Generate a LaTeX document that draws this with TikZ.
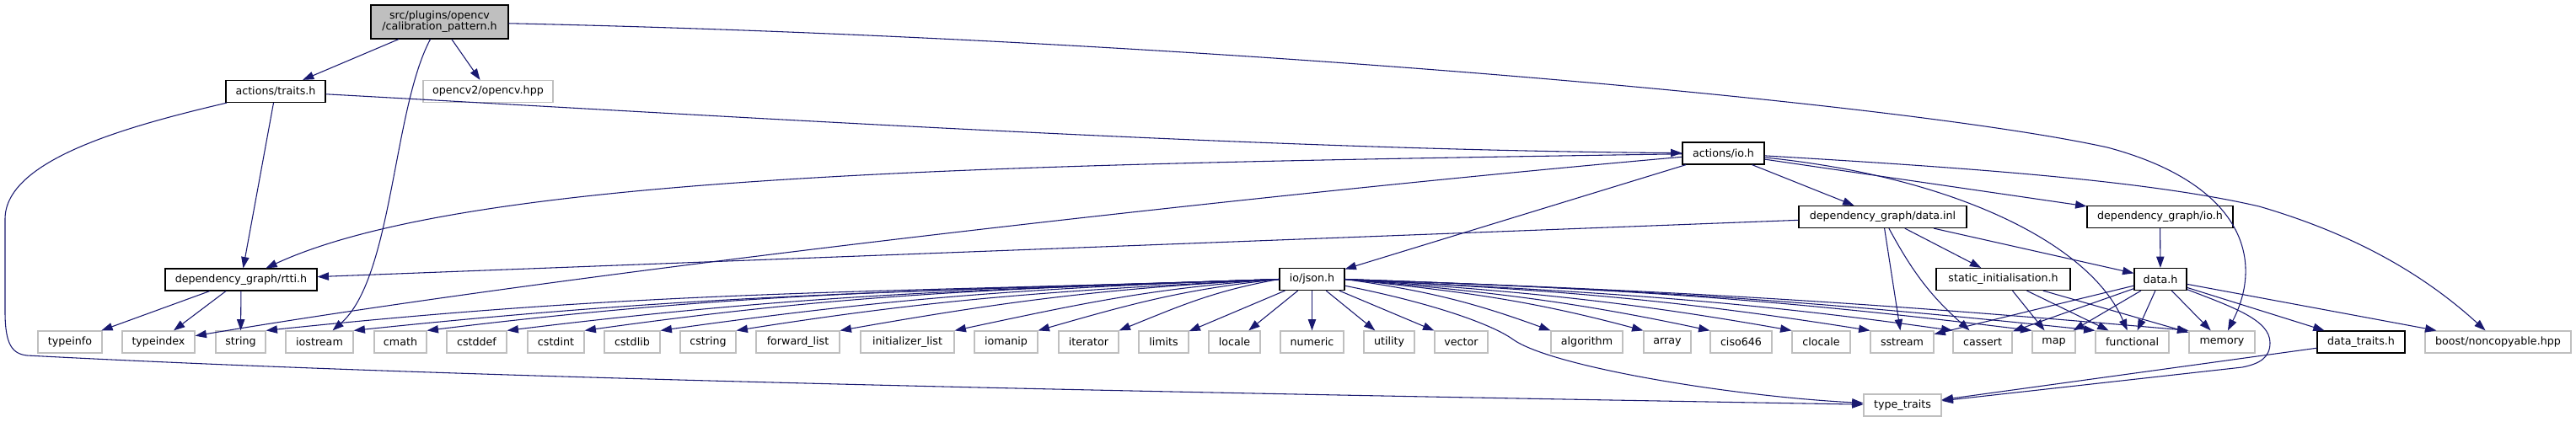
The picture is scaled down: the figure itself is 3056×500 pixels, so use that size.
\documentclass[tikz,border=0pt]{standalone}
\usepackage{fontspec}
\setmainfont{DejaVu Sans}
\usetikzlibrary{arrows.meta}
\definecolor{eDep}{RGB}{25, 25, 112}
\definecolor{bExt}{RGB}{191, 191, 191}
\definecolor{cMain}{RGB}{191, 191, 191}

\begin{document}
\begin{tikzpicture}[
    x=0.75pt, y=0.75pt,
    font=\fontsize{9.5}{10}\selectfont,
    hdr/.style={
        draw=black,
        fill=white,
        line width=0.9pt,
        minimum height=19.5pt,
        inner sep=2pt,
        align=center
    },
    ext/.style={hdr, draw=bExt},
    boxw/.style={minimum width=#1*0.75pt},
    dep/.style={-{Triangle[length=10pt, width=7pt]}, line width=0.8pt, draw=eDep, fill=none}
]

\fill[white] (0,0) rectangle (3056,-500);

% Top levels
\node[hdr, fill=cMain, boxw=163, minimum height=30pt] (calib) at (521.5,-26) {src/plugins/opencv\\/calibration\_pattern.h};
\node[hdr, boxw=118] (traits) at (327,-108.5) {actions/traits.h};
\node[ext, boxw=154] (opencv) at (579,-108.5) {opencv2/opencv.hpp};
\node[hdr, boxw=97] (io) at (2044.5,-182) {actions/io.h};
\node[hdr, boxw=199] (datainl) at (2233.5,-257.5) {dependency\_graph/data.inl};
\node[hdr, boxw=173] (dgio) at (2562.5,-257.5) {dependency\_graph/io.h};
\node[hdr, boxw=180] (rtti) at (286,-332) {dependency\_graph/rtti.h};
\node[hdr, boxw=77] (json) at (1556.5,-331.5) {io/json.h};
\node[hdr, boxw=159] (statinit) at (2376.5,-331.5) {static\_initialisation.h};
\node[hdr, boxw=62] (datah) at (2563,-331.5) {data.h};

% Bottom row
\node[ext, boxw=76] (typeinfo) at (83,-406) {typeinfo};
\node[ext, boxw=86] (typeindex) at (188,-406) {typeindex};
\node[ext, boxw=59] (string) at (285.5,-406) {string};
\node[ext, boxw=80] (iostream) at (379,-406) {iostream};
\node[ext, boxw=62] (cmath) at (475,-406) {cmath};
\node[ext, boxw=71] (cstddef) at (565.5,-406) {cstddef};
\node[ext, boxw=67] (cstdint) at (659.5,-406) {cstdint};
\node[ext, boxw=66] (cstdlib) at (750,-406) {cstdlib};
\node[ext, boxw=66] (cstring) at (840,-406) {cstring};
\node[ext, boxw=99] (fwdlist) at (946.5,-406) {forward\_list};
\node[ext, boxw=111] (initlist) at (1076.5,-406) {initializer\_list};
\node[ext, boxw=75] (iomanip) at (1193.5,-406) {iomanip};
\node[ext, boxw=71] (iterator) at (1291.5,-406) {iterator};
\node[ext, boxw=59] (limits) at (1380.5,-406) {limits};
\node[ext, boxw=61] (locale) at (1464.5,-406) {locale};
\node[ext, boxw=75] (numeric) at (1556.5,-406) {numeric};
\node[ext, boxw=60] (utility) at (1648,-406) {utility};
\node[ext, boxw=63] (vector) at (1733.5,-406) {vector};
\node[ext, boxw=85] (algorithm) at (1882.5,-406) {algorithm};
\node[ext, boxw=56] (array) at (1978,-406) {array};
\node[ext, boxw=73] (ciso) at (2065.5,-406) {ciso646};
\node[ext, boxw=69] (clocale) at (2160.5,-406) {clocale};
\node[ext, boxw=75] (sstream) at (2256.5,-406) {sstream};
\node[ext, boxw=70] (cassert) at (2352,-406) {cassert};
\node[ext, boxw=51] (map) at (2436.5,-406) {map};
\node[ext, boxw=87] (functional) at (2529.5,-406) {functional};
\node[ext, boxw=78] (memory) at (2636,-406) {memory};
\node[hdr, boxw=104] (datatraits) at (2801,-406) {data\_traits.h};
\node[ext, boxw=173] (boost) at (2963.5,-406) {boost/noncopyable.hpp};
\node[ext, boxw=92] (typetraits) at (2257,-481) {type\_traits};

% calibration_pattern.h
\draw[dep] (calib) -- (traits);
\draw[dep] (calib) -- (opencv);
\draw[dep] (calib) .. controls (466,-130) and (466,-330) .. (iostream);
\draw[dep] (calib) .. controls (1400,-45) and (2250,-120) .. (2500,-175) .. controls (2650,-215) and (2690,-300) .. (memory);

% actions/traits.h
\draw[dep] (traits) .. controls (900,-140) and (1500,-178) .. (io);
\draw[dep] (traits) -- (rtti);
\draw[dep] (traits) .. controls (150,-150) and (6,-190) .. (6,-260) -- (6,-370) .. controls (6,-410) and (15,-420) .. (32,-422) .. controls (600,-452) and (1500,-468) .. (typetraits);

% dependency_graph/rtti.h
\draw[dep] (rtti) -- (typeinfo);
\draw[dep] (rtti) -- (typeindex);
\draw[dep] (rtti) -- (string);

% actions/io.h
\draw[dep] (io) .. controls (1200,-195) and (560,-205) .. (rtti);
\draw[dep] (io) .. controls (1500,-230) and (700,-320) .. (typeindex);
\draw[dep] (io) -- (json);
\draw[dep] (io) -- (datainl);
\draw[dep] (io) -- (dgio);
\draw[dep] (io) .. controls (2320,-210) and (2480,-290) .. (functional);
\draw[dep] (io) .. controls (2350,-200) and (2550,-215) .. (2680,-245) .. controls (2800,-280) and (2880,-330) .. (boost);

% dependency_graph/data.inl
\draw[dep] (datainl) -- (rtti);
\draw[dep] (datainl) -- (statinit);
\draw[dep] (datainl) -- (datah);
\draw[dep] (datainl) -- (sstream);
\draw[dep] (datainl) to[bend right=10] (cassert);

% dependency_graph/io.h
\draw[dep] (dgio) -- (datah);

% static_initialisation.h
\draw[dep] (statinit) -- (map);
\draw[dep] (statinit) -- (functional);
\draw[dep] (statinit) -- (memory);

% data.h
\draw[dep] (datah) -- (sstream);
\draw[dep] (datah) -- (cassert);
\draw[dep] (datah) -- (map);
\draw[dep] (datah) -- (functional);
\draw[dep] (datah) -- (memory);
\draw[dep] (datah) -- (datatraits);
\draw[dep] (datah) -- (boost);
\draw[dep] (datah) .. controls (2650,-365) and (2693,-380) .. (2693,-407) .. controls (2693,-425) and (2680,-432) .. (2660,-436) -- (typetraits);

% data_traits.h
\draw[dep] (datatraits) -- (typetraits);

% io/json.h
\draw[dep] (json.west) to[out=182, in=6] (string.north east);
\draw[dep] (json.west) to[out=182, in=6] (iostream.north east);
\draw[dep] (json.west) to[out=182, in=7] (cmath.north east);
\draw[dep] (json.west) to[out=182, in=7] (cstddef.north east);
\draw[dep] (json.west) to[out=182, in=8] (cstdint.north east);
\draw[dep] (json.west) to[out=182, in=8] (cstdlib.north east);
\draw[dep] (json.west) to[out=183, in=9] (cstring.north east);
\draw[dep] (json.west) to[out=183, in=10] (fwdlist.north east);
\draw[dep] (json.west) to[out=184, in=12] (initlist.north east);
\draw[dep] (json.west) to[out=186, in=16] (iomanip.north east);
\draw[dep] (json.west) to[out=190, in=22] (iterator.north east);
\draw[dep] (json) -- (limits);
\draw[dep] (json) -- (locale);
\draw[dep] (json) -- (numeric);
\draw[dep] (json) -- (utility);
\draw[dep] (json) -- (vector);
\draw[dep] (json.east) to[out=-8, in=160] (algorithm.north west);
\draw[dep] (json.east) to[out=-6, in=165] (array.north west);
\draw[dep] (json.east) to[out=-5, in=168] (ciso.north west);
\draw[dep] (json.east) to[out=-4, in=170] (clocale.north west);
\draw[dep] (json.east) to[out=-3, in=171] (sstream.north west);
\draw[dep] (json.east) to[out=-3, in=172] (cassert.north west);
\draw[dep] (json.east) to[out=-2, in=173] (map.north west);
\draw[dep] (json.east) to[out=-2, in=174] (functional.north west);
\draw[dep] (json.east) to[out=-2, in=175] (memory.north west);
\draw[dep] (json) .. controls (1700,-360) and (1770,-385) .. (1795,-403) .. controls (1840,-435) and (2050,-470) .. (typetraits);

\end{tikzpicture}
\end{document}
